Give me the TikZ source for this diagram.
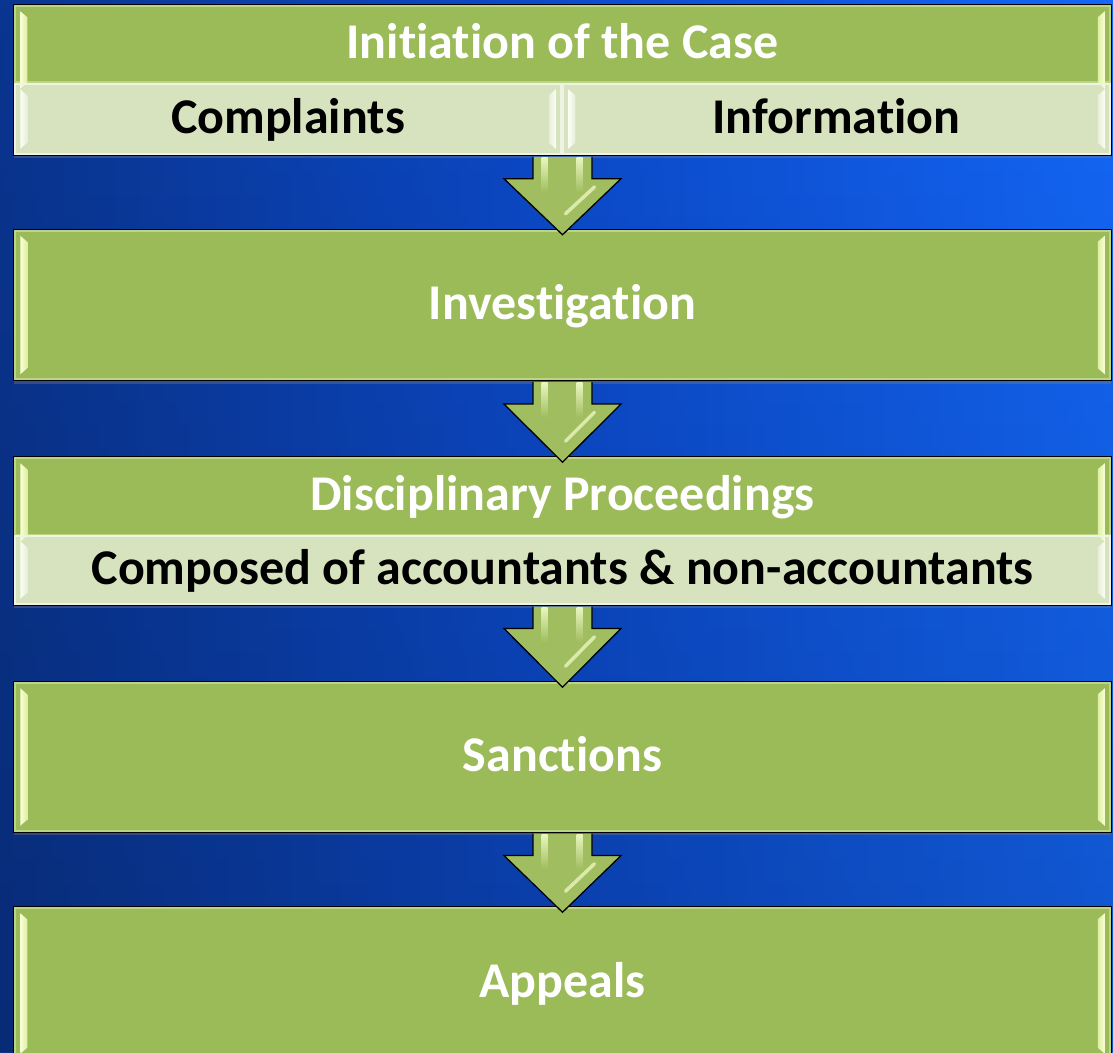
\documentclass[tikz,border=0pt]{standalone}
\usepackage{fontspec}
\setmainfont{Carlito}[RawFeature={-liga;-clig;-dlig;-hlig}]
\usetikzlibrary{calc,shadows,fadings}
\definecolor{bgl}{HTML}{0A3590}
\definecolor{bgm}{HTML}{0C4BCC}
\definecolor{bgr}{HTML}{1467F8}
\definecolor{boxgreen}{HTML}{9BBB59}
\definecolor{boxlight}{HTML}{D7E3BF}
\definecolor{gband}{HTML}{BCD488}
\definecolor{lband}{HTML}{EEF3E3}
\definecolor{gstripA}{HTML}{FAFFD6}
\definecolor{gstripB}{HTML}{DCEFA2}
\definecolor{lstripA}{HTML}{FCFEF6}
\definecolor{lstripB}{HTML}{E6EED6}
\definecolor{arrowgreen}{HTML}{A0BE60}
\definecolor{arrowhl}{HTML}{EAF6BE}
\tikzset{
  basebox/.style={draw=black, line width=1.5pt, inner sep=0pt,
    font=\fontsize{50}{60}\selectfont\bfseries, text height=36pt, text depth=8pt,
    drop shadow={shadow xshift=0pt, shadow yshift=-3pt, opacity=0.35}},
  gbox/.style={basebox, fill=boxgreen, text=white, minimum width=1097pt, minimum height=#1},
  lbox/.style={basebox, fill=boxlight, text=black, minimum height=#1},
  arrowbody/.style={draw=black, line width=1.3pt, line join=miter, fill=arrowgreen},
}
\newcommand\bevels[5]{% node, stripA, stripB, band colour, bottom inset
  \draw[#4, line width=2pt] ($(#1.north west)+(2.2,-2.2)$) rectangle ($(#1.south east)+(-2.2,2.2)$);
  \shade[left color=#2, right color=#3]
    ($(#1.north west)+(7,-7)$) -- ($(#1.north west)+(14,-13)$) --
    ($(#1.south west)+(14,#5)$) -- ($(#1.south west)+(7,#5-6)$) -- cycle;
  \shade[left color=#3, right color=#2]
    ($(#1.north east)+(-7,-7)$) -- ($(#1.north east)+(-14,-13)$) --
    ($(#1.south east)+(-14,#5)$) -- ($(#1.south east)+(-7,#5-6)$) -- cycle;
}
\newcommand\flowarrow[2]{%
  \coordinate (fa-s) at (#1.south);
  \coordinate (fa-t) at (#1.south |- #2.north);
  \filldraw[arrowbody] ($(fa-s)+(-29.5,-0.8)$) -- ++(0,-22) -- ++(-29,0) --
    ($(fa-t)+(0,-6)$) -- ($(fa-s)+(58.5,-22.8)$) -- ++(-29,0) -- ++(0,22);
  \shade[top color=arrowhl, bottom color=arrowgreen]
    ($(fa-s)+(-21,-1.5)$) rectangle ($(fa-s)+(-15,-36)$);
  \shade[top color=arrowhl, bottom color=arrowgreen]
    ($(fa-s)+(14,-1.5)$) rectangle ($(fa-s)+(20,-36)$);
  \draw[arrowhl, line width=3.5pt, line cap=round, opacity=0.8]
    ($(fa-s)+(32,-31)$) -- ($(fa-t)+(3,15)$);
}
\begin{document}
\begin{tikzpicture}[x=1pt,y=1pt]
\useasboundingbox (0,0) rectangle (1113,-1052);
\shade[left color=bgl, right color=bgr, middle color=bgm] (0,0) rectangle (1113,-1052);
\fill[black, opacity=0.18, path fading=north] (0,0) rectangle (1113,-1052);

% boxes
\node[gbox=78pt] (init) at (562.5,-44) {Initiation of the Case};
\node[lbox=72pt, minimum width=548pt] (compl) at (288,-119) {Complaints};
\node[lbox=72pt, minimum width=549pt] (info) at (836.5,-119) {Information};
\node[gbox=151pt] (inv) at (562.5,-305) {Investigation};
\node[gbox=79pt] (disc) at (562.5,-496.5) {Disciplinary Proceedings};
\node[lbox=70pt, minimum width=1097pt] (comp) at (562.5,-570) {Composed of accountants \& non-accountants};
\node[gbox=150pt] (sanc) at (562.5,-757) {Sanctions};
\node[gbox=153pt] (appe) at (562.5,-983.5) {Appeals};

% bevel highlights
\bevels{init}{gstripA}{gstripB}{gband}{1}
\bevels{compl}{lstripA}{lstripB}{lband}{13}
\bevels{info}{lstripA}{lstripB}{lband}{13}
\bevels{inv}{gstripA}{gstripB}{gband}{13}
\bevels{disc}{gstripA}{gstripB}{gband}{1}
\bevels{comp}{lstripA}{lstripB}{lband}{13}
\bevels{sanc}{gstripA}{gstripB}{gband}{13}
\bevels{appe}{gstripA}{gstripB}{gband}{13}

% arrows
\coordinate (initbot) at (init.south |- compl.south);
\node[inner sep=0pt, minimum size=0pt] (row1) at (initbot) {};
\flowarrow{row1}{inv}
\flowarrow{inv}{disc}
\flowarrow{comp}{sanc}
\flowarrow{sanc}{appe}
\end{tikzpicture}
\end{document}
